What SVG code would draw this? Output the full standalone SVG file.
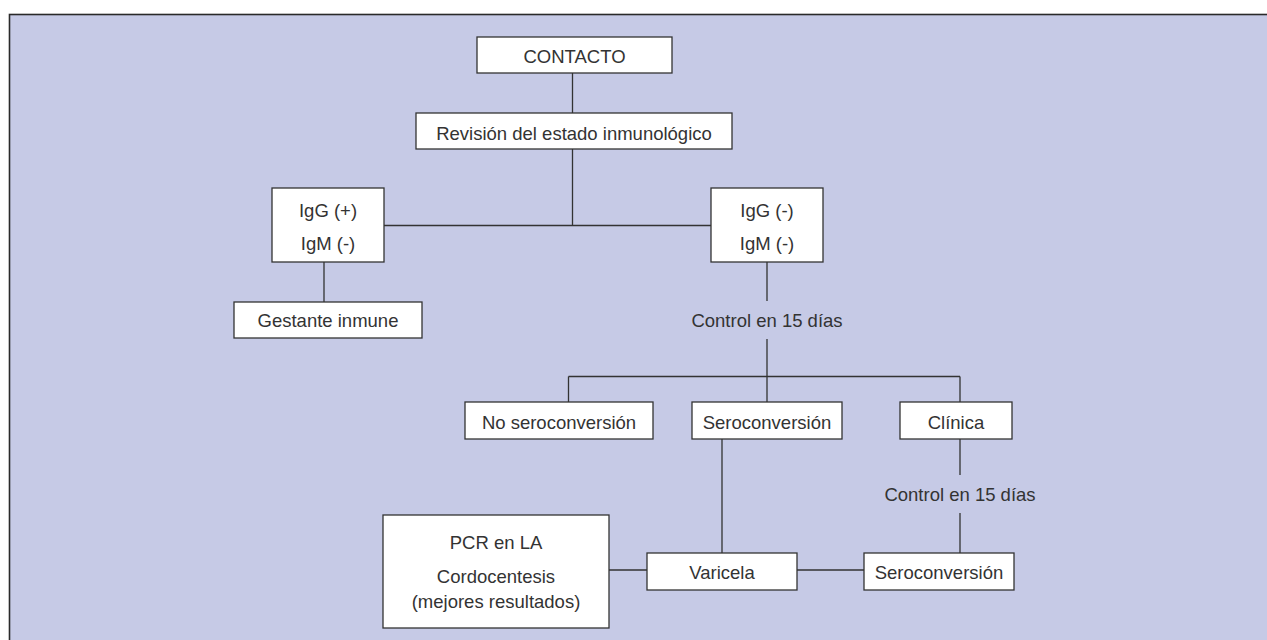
<svg xmlns="http://www.w3.org/2000/svg" width="1267" height="640" viewBox="0 0 1267 640">
<style>
.bx{fill:#fff;stroke:#333;stroke-width:1.3}
.ln{stroke:#333;stroke-width:1.3;fill:none}
text{font-family:"Liberation Sans",Arial,sans-serif;font-size:18.5px;fill:#333;text-anchor:middle}
</style>
<rect x="0" y="0" width="1267" height="640" fill="#fff"/>
<rect x="9.5" y="14.5" width="1270" height="640" fill="#c6cae6" stroke="#2a2a2a" stroke-width="1.6"/>
<g id="connectors">
<path class="ln" d="M572.5 73V113M572.5 149V225.5M384 225.5H711M324 262V302M767 262V301M767 339V376.5M568.5 376.5H960M568.5 376.5V402M767 376.5V402M960 376.5V402M722 439V553M960 439V475M960 513V553M797 570H864M609 570H647"/>
</g>
<g id="contacto"><rect class="bx" x="477" y="37" width="195" height="36"/><text x="574.5" y="62.5">CONTACTO</text></g>
<g id="revision"><rect class="bx" x="416" y="113" width="316" height="36"/><text x="574" y="140">Revisión del estado inmunológico</text></g>
<g id="igg-pos"><rect class="bx" x="272" y="188" width="112" height="74"/><text x="328" y="216.5">IgG (+)</text><text x="328" y="250">IgM (-)</text></g>
<g id="gestante"><rect class="bx" x="234" y="302" width="188" height="36"/><text x="328" y="327">Gestante inmune</text></g>
<g id="igg-neg"><rect class="bx" x="711" y="188" width="112" height="74"/><text x="767" y="216.5">IgG (-)</text><text x="767" y="250">IgM (-)</text></g>
<g id="control1"><text x="767" y="327">Control en 15 días</text></g>
<g id="no-sero"><rect class="bx" x="465" y="402" width="188" height="37"/><text x="559" y="428.5">No seroconversión</text></g>
<g id="sero1"><rect class="bx" x="692" y="402" width="150" height="37"/><text x="767" y="428.5">Seroconversión</text></g>
<g id="clinica"><rect class="bx" x="900" y="402" width="112" height="37"/><text x="956" y="428.5">Clínica</text></g>
<g id="control2"><text x="960" y="501">Control en 15 días</text></g>
<g id="varicela"><rect class="bx" x="647" y="553" width="150" height="37"/><text x="722" y="578.5">Varicela</text></g>
<g id="sero2"><rect class="bx" x="864" y="553" width="150" height="37"/><text x="939" y="578.5">Seroconversión</text></g>
<g id="pcr"><rect class="bx" x="383" y="515" width="226" height="113"/><text x="496" y="549">PCR en LA</text><text x="496" y="583">Cordocentesis</text><text x="496" y="608">(mejores resultados)</text></g>
</svg>
